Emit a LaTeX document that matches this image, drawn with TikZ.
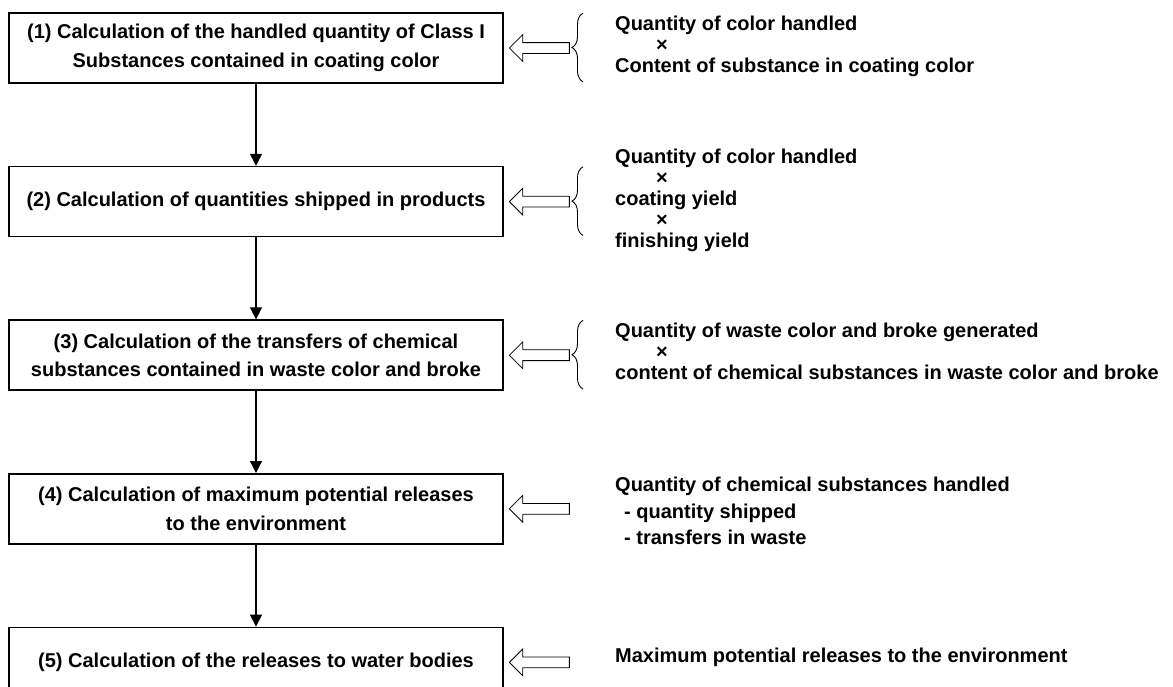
\documentclass[tikz,border=0pt]{standalone}
\usepackage{fontspec}
\setmainfont{Liberation Sans}
\usetikzlibrary{positioning,calc,shapes.arrows,decorations.pathreplacing,arrows.meta}
\newcommand{\by}{\hspace{41pt}×}

\begin{document}
\begin{tikzpicture}[
  x=1pt, y=-1pt,
  node distance=82pt,
  font=\fontsize{20}{28.5}\selectfont\bfseries,
  stepbox/.style={rectangle, draw, line width=1.6pt, minimum width=494pt,
                  minimum height=70pt, align=center},
  flow/.style={-{Triangle[length=12pt,width=12pt]}, line width=1.2pt},
  hollow/.style={single arrow, draw, line width=0.8pt, shape border rotate=180,
                 minimum height=60pt, inner xsep=0pt, inner ysep=5pt,
                 single arrow head extend=8pt},
  note/.style={anchor=west, align=left, inner sep=0pt,
               font=\fontsize{20}{21}\selectfont\bfseries},
  brc/.style={decorate, decoration={brace, amplitude=11pt}, line width=0.9pt}
]
  \useasboundingbox (0,0) rectangle (1173,686);

  % calculation steps
  \node[stepbox] (b1) at (256,48) {(1) Calculation of the handled quantity of Class I\\Substances contained in coating color};
  \node[stepbox, below=of b1] (b2) {(2) Calculation of quantities shipped in products};
  \node[stepbox, below=of b2] (b3) {(3) Calculation of the transfers of chemical\\substances contained in waste color and broke};
  \node[stepbox, below=of b3] (b4) {(4) Calculation of maximum potential releases\\to the environment};
  \node[stepbox, below=of b4] (b5) {(5) Calculation of the releases to water bodies};

  \draw[flow] (b1) -- (b2);
  \draw[flow] (b2) -- (b3);
  \draw[flow] (b3) -- (b4);
  \draw[flow] (b4) -- (b5);

  % inputs
  \node[hollow, anchor=tip] (h1) at ($(b1.east)+(5pt,0)$) {};
  \node[hollow, anchor=tip] (h2) at ($(b2.east)+(5pt,0)$) {};
  \node[hollow, anchor=tip] (h3) at ($(b3.east)+(5pt,0)$) {};
  \node[hollow, anchor=tip] (h4) at ($(b4.east)+(5pt,0)$) {};
  \node[hollow, anchor=tip] (h5) at ($(b5.east)+(5pt,0)$) {};

  \node[note] (n1) at (615,46) {Quantity of color handled\\\by\\Content of substance in coating color};
  \node[note] (n2) at (615,200) {Quantity of color handled\\\by\\coating yield\\\by\\finishing yield};
  \node[note] (n3) at (615,351) {Quantity of waste color and broke generated\\\by\\content of chemical substances in waste color and broke};
  \node[note, font=\fontsize{20}{26.5}\selectfont\bfseries] (n4) at (615,511) {Quantity of chemical substances handled\\\hspace{9pt}- quantity shipped\\\hspace{9pt}- transfers in waste};
  \node[note] (n5) at (615,657) {Maximum potential releases to the environment};

  \draw[brc] ($(n1.west |- b1.south)+(-32pt,2pt)$) -- ($(n1.west |- b1.north)+(-32pt,-1pt)$);
  \draw[brc] ($(n2.west |- b2.south)+(-32pt,2pt)$) -- ($(n2.west |- b2.north)+(-32pt,-1pt)$);
  \draw[brc] ($(n3.west |- b3.south)+(-32pt,2pt)$) -- ($(n3.west |- b3.north)+(-32pt,-1pt)$);
\end{tikzpicture}
\end{document}
